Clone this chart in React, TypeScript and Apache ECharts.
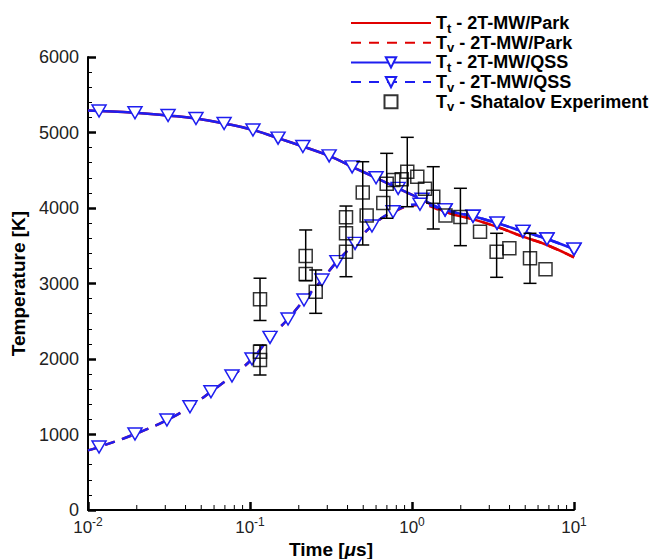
import React, { useEffect, useRef } from "react";
import * as echarts from "echarts";

// ---- data (time in microseconds, temperature in K) ----
const ttTime = [0.01, 0.0117, 0.0195, 0.0312, 0.0464, 0.0692, 0.1043, 0.149, 0.212, 0.308, 0.427, 0.6, 0.821, 1.153, 1.6, 2.38, 3.35, 4.84, 6.81, 10];
const ttQSS = [5290, 5285, 5262, 5225, 5185, 5120, 5033, 4925, 4815, 4690, 4545, 4400, 4260, 4115, 3975, 3890, 3800, 3690, 3590, 3455];
const ttPark = [5290, 5285, 5262, 5225, 5185, 5120, 5033, 4925, 4815, 4690, 4545, 4400, 4260, 4110, 3950, 3850, 3750, 3620, 3510, 3345];

const tvTime = [0.01, 0.0117, 0.0195, 0.0307, 0.0426, 0.0574, 0.0774, 0.1029, 0.1329, 0.1717, 0.2154, 0.278, 0.344, 0.445, 0.566, 0.764, 1.12, 1.6, 2.38, 3.35, 4.84, 6.81, 10];
const tvQSS = [790, 834, 1006, 1192, 1368, 1567, 1775, 2000, 2287, 2530, 2781, 3046, 3289, 3532, 3762, 3950, 4050, 3975, 3890, 3800, 3690, 3590, 3455];
const tvPark = [790, 834, 1006, 1192, 1368, 1567, 1775, 2000, 2287, 2530, 2781, 3046, 3289, 3532, 3762, 3945, 4040, 3950, 3850, 3750, 3620, 3510, 3345];

const expTime = [0.1153, 0.1153, 0.1153, 0.2207, 0.2207, 0.2545, 0.3914, 0.3914, 0.3914, 0.4965, 0.525, 0.665, 0.698, 0.767, 0.864, 0.935, 1.078, 1.203, 1.353, 1.61, 1.99, 2.63, 3.33, 3.99, 5.35, 6.67];
const expTemp = [2790, 2097, 1987, 3364, 3126, 2892, 3877, 3665, 3421, 4204, 3900, 4065, 4320, 4371, 4380, 4481, 4415, 4255, 4150, 3900, 3880, 3686, 3421, 3466, 3334, 3190];

const errTime = [0.1153, 0.1153, 0.2207, 0.2545, 0.3914, 0.4965, 0.698, 0.935, 1.353, 1.99, 3.33, 5.35];
const errLow = [2510, 1788, 3037, 2605, 3090, 3510, 3864, 4017, 3722, 3501, 3082, 3002];
const errHigh = [3070, 2185, 3709, 3179, 4026, 4613, 4724, 4936, 4547, 4261, 3665, 3665];

const minorTickTimes = [0.02, 0.03, 0.04, 0.05, 0.06, 0.07, 0.08, 0.09, 0.2, 0.3, 0.4, 0.5, 0.6, 0.7, 0.8, 0.9, 2, 3, 4, 5, 6, 7, 8, 9];

const FONT = "'Liberation Sans', Arial, sans-serif";
const RED = "#e00000";
const BLUE = "#1e1ef0";

const legendNames = ["Tt - 2T-MW/Park", "Tv - 2T-MW/Park", "Tt - 2T-MW/QSS", "Tv - 2T-MW/QSS", "Tv - Shatalov Experiment"];

function pairs(xs: number[], ys: number[], firstNoSymbol = false) {
  return xs.map((x, i) => (firstNoSymbol && i === 0 ? { value: [x, ys[i]], symbol: "none" } : [x, ys[i]]));
}

export default function App() {
  const ref = useRef<HTMLDivElement>(null);
  useEffect(() => {
    if (!ref.current) return;
    const chart = echarts.init(ref.current, null, { renderer: "svg" });
    const triSymbol = {
      symbol: "triangle",
      symbolSize: [14, 12],
      symbolRotate: 180,
      itemStyle: { color: "#ffffff", borderColor: BLUE, borderWidth: 1.5 },
    };
    chart.setOption({
      animation: false,
      backgroundColor: "#ffffff",
      grid: { left: 88, right: 78, top: 57, bottom: 49, outerBoundsMode: "none", containLabel: false },
      legend: {
        data: [
          { name: legendNames[0], itemStyle: { opacity: 0 } },
          { name: legendNames[1], itemStyle: { opacity: 0 } },
          { name: legendNames[2] },
          { name: legendNames[3] },
          { name: legendNames[4], icon: "path://M0,0H10V10H0Z" },
        ],
        orient: "vertical",
        left: 345,
        top: 9,
        itemWidth: 80,
        itemHeight: 13,
        itemGap: -0.8,
        formatter: (name: string) => {
          const sub = name.charAt(1);
          return `{b|T}{s|${sub}}{b|${name.slice(2)}}`;
        },
        textStyle: {
          fontFamily: FONT,
          color: "#000",
          rich: {
            b: { fontFamily: FONT, fontWeight: "bold", fontSize: 18, color: "#000" },
            s: { fontFamily: FONT, fontWeight: "bold", fontSize: 13, color: "#000", padding: [10, 0, 0, 0] },
          },
        },
      },
      xAxis: {
        type: "log",
        logBase: 10,
        min: 0.01,
        max: 10,
        name: "Time [{i|μ}s]",
        nameLocation: "middle",
        nameGap: 28,
        nameTextStyle: {
          fontFamily: FONT,
          fontWeight: "bold",
          fontSize: 19,
          color: "#000",
          rich: {
            i: { fontFamily: FONT, fontStyle: "italic", fontWeight: "bold", fontSize: 19, color: "#000" },
          },
        },
        axisLine: { show: true, lineStyle: { color: "#000", width: 2 } },
        axisTick: { show: true, inside: true, length: 8, lineStyle: { color: "#000", width: 2.5 } },
        splitLine: { show: false },
        axisLabel: {
          margin: 6,
          formatter: (v: number) => `{b|10}{s|${Math.round(Math.log10(v))}}`,
          rich: {
            b: { fontFamily: FONT, fontSize: 17, color: "#222" },
            s: { fontFamily: FONT, fontSize: 12, color: "#222", padding: [0, 0, 10, 0] },
          },
        },
      },
      yAxis: {
        type: "value",
        min: 0,
        max: 6000,
        interval: 1000,
        name: "Temperature [K]",
        nameLocation: "middle",
        nameGap: 55,
        nameTextStyle: { fontFamily: FONT, fontWeight: "bold", fontSize: 19, color: "#000" },
        axisLine: { show: true, lineStyle: { color: "#000", width: 2 } },
        axisTick: { show: true, inside: true, length: 8, lineStyle: { color: "#000", width: 2.5 } },
        minorTick: { show: true, splitNumber: 5, length: 4, lineStyle: { color: "#000", width: 1 } },
        splitLine: { show: false },
        axisLabel: { fontFamily: FONT, fontSize: 18, color: "#222", margin: 9, formatter: (v: number) => String(v) },
      },
      series: [
        {
          name: legendNames[0],
          type: "line",
          smooth: true,
          symbol: "none",
          data: pairs(ttTime, ttPark),
          lineStyle: { color: RED, width: 2.5, type: "solid" },
          itemStyle: { color: RED },
          z: 2,
        },
        {
          name: legendNames[1],
          type: "line",
          smooth: true,
          symbol: "none",
          data: pairs(tvTime, tvPark),
          lineStyle: { color: RED, width: 2.5, type: [10, 8] },
          itemStyle: { color: RED },
          z: 2,
        },
        {
          name: legendNames[2],
          type: "line",
          smooth: true,
          ...triSymbol,
          showAllSymbol: true,
          data: pairs(ttTime, ttQSS, true),
          lineStyle: { color: BLUE, width: 2.5, type: "solid" },
          z: 3,
        },
        {
          name: legendNames[3],
          type: "line",
          smooth: true,
          ...triSymbol,
          showAllSymbol: true,
          data: pairs(tvTime, tvQSS, true),
          lineStyle: { color: BLUE, width: 2.5, type: [10, 8] },
          z: 3,
        },
        {
          name: "errorbars",
          type: "custom",
          data: errTime.map((t, i) => [t, errLow[i], errHigh[i]]),
          encode: { x: 0, y: [1, 2] },
          z: 4,
          silent: true,
          renderItem: (params: any, api: any) => {
            const t = api.value(0);
            const lo = api.coord([t, api.value(1)]);
            const hi = api.coord([t, api.value(2)]);
            const w = 6.5;
            const st = { stroke: "#000", lineWidth: 1.5 };
            return {
              type: "group",
              children: [
                { type: "line", shape: { x1: lo[0], y1: lo[1], x2: hi[0], y2: hi[1] }, style: st },
                { type: "line", shape: { x1: lo[0] - w, y1: lo[1], x2: lo[0] + w, y2: lo[1] }, style: st },
                { type: "line", shape: { x1: hi[0] - w, y1: hi[1], x2: hi[0] + w, y2: hi[1] }, style: st },
              ],
            };
          },
        },
        {
          name: legendNames[4],
          type: "scatter",
          symbol: "rect",
          symbolSize: 13,
          data: pairs(expTime, expTemp),
          itemStyle: { color: "rgba(255,255,255,0)", borderColor: "#000", borderWidth: 1.5 },
          z: 5,
        },
        {
          name: "minorticks",
          type: "custom",
          data: minorTickTimes.map((t) => [t, 0]),
          encode: { x: 0, y: 1 },
          silent: true,
          clip: false,
          z: 6,
          renderItem: (params: any, api: any) => {
            const p = api.coord([api.value(0), 0]);
            return {
              type: "line",
              shape: { x1: p[0], y1: p[1], x2: p[0], y2: p[1] - 5 },
              style: { stroke: "#000", lineWidth: 1 },
            };
          },
        },
      ],
    });
    return () => chart.dispose();
  }, []);
  return (
    <div
      ref={ref}
      style={{ position: "fixed", left: 0, top: 0, width: 652, height: 559, background: "#fff" }}
    />
  );
}
